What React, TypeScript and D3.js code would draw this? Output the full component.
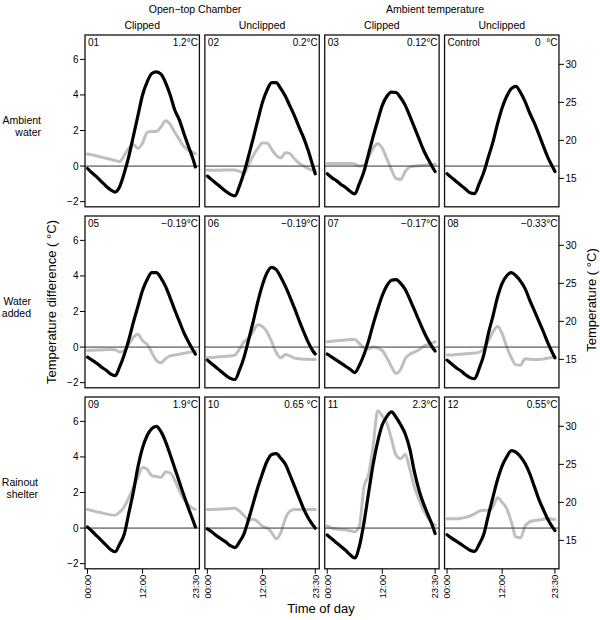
import React from "react";
import * as d3 from "d3";

// ---------- data ----------
const hours = [0, 1, 2, 3, 4, 5, 6, 7, 8, 9, 10, 11, 12, 13, 14, 15, 16, 17, 18, 19, 20, 21, 22, 23, 23.5];

const leftTicks = [-2, 0, 2, 4, 6];
const rightTicks = [15, 20, 25, 30];
const timeTicks = [0, 12, 23.5];
const timeTickLabels = ["00:00", "12:00", "23:30"];

const groupLabels = ["Open\u2212top Chamber", "Ambient temperature"];
const colLabels = ["Clipped", "Unclipped", "Clipped", "Unclipped"];
const rowLabels = [["Ambient", "water"], ["Water", "added"], ["Rainout", "shelter"]];
const panelIds = ["01", "02", "03", "Control", "05", "06", "07", "08", "09", "10", "11", "12"];
const panelOffsets = ["1.2\u00b0C", "0.2\u00b0C", "0.12\u00b0C", "0  \u00b0C", "\u22120.19\u00b0C", "\u22120.19\u00b0C", "\u22120.17\u00b0C", "\u22120.33\u00b0C", "1.9\u00b0C", "0.65 \u00b0C", "2.3\u00b0C", "0.55\u00b0C"];

// temperature (right axis, black)
const temp01 = [16.3, 15.7, 15.2, 14.6, 14.0, 13.5, 13.2, 13.9, 15.7, 17.9, 20.6, 23.3, 26.0, 27.7, 28.8, 29.0, 28.7, 27.6, 26.0, 24.0, 22.7, 20.9, 19.2, 17.5, 16.5];
const temp02 = [15.3, 14.8, 14.3, 13.8, 13.3, 12.9, 12.7, 14.0, 15.8, 18.0, 20.3, 22.7, 25.0, 26.6, 27.6, 27.6, 26.8, 25.8, 24.5, 23.2, 21.7, 20.3, 18.6, 16.6, 15.6];
const temp03 = [15.6, 15.1, 14.7, 14.2, 13.8, 13.3, 12.95, 14.3, 15.9, 18.2, 20.5, 22.6, 24.6, 25.8, 26.35, 26.3, 25.6, 24.6, 23.2, 21.7, 20.2, 18.7, 17.5, 16.4, 15.9];
const temp04 = [15.6, 15.1, 14.6, 14.1, 13.6, 13.1, 13.0, 14.3, 15.8, 17.8, 19.8, 22.2, 24.3, 25.8, 26.8, 27.1, 26.3, 25.1, 23.6, 22.3, 20.8, 19.2, 17.7, 16.5, 15.9];
const temp05 = [15.3, 14.9, 14.5, 14.0, 13.6, 13.1, 12.85, 14.0, 15.6, 17.6, 19.9, 22.0, 24.1, 25.5, 26.4, 26.4, 25.7, 24.6, 23.1, 21.5, 20.0, 18.5, 17.3, 16.2, 15.7];
const temp06 = [14.9, 14.4, 13.9, 13.4, 12.9, 12.5, 12.35, 13.6, 15.3, 17.6, 20.0, 22.6, 24.8, 26.4, 27.1, 26.8, 25.8, 24.6, 23.2, 21.7, 20.1, 18.6, 17.2, 16.1, 15.7];
const temp07 = [15.7, 15.3, 14.9, 14.5, 14.1, 13.7, 13.25, 14.2, 15.6, 17.4, 19.6, 21.6, 23.4, 24.7, 25.4, 25.5, 25.0, 24.2, 22.9, 21.5, 20.1, 18.7, 17.5, 16.5, 16.1];
const temp08 = [14.9, 14.4, 13.9, 13.5, 13.0, 12.6, 12.45, 13.8, 15.6, 18.4, 20.7, 23.2, 25.0, 26.0, 26.4, 26.0, 25.3, 24.3, 22.8, 21.4, 20.0, 18.6, 17.1, 15.8, 15.2];
const temp09 = [16.75, 16.2, 15.6, 15.0, 14.4, 13.8, 13.5, 14.5, 15.8, 18.6, 21.4, 24.7, 27.2, 28.8, 29.7, 30.0, 29.3, 28.0, 26.3, 24.5, 22.7, 20.9, 19.2, 17.6, 16.75];
const temp10 = [16.5, 16.1, 15.6, 15.2, 14.8, 14.3, 14.05, 14.8, 15.9, 17.8, 19.9, 22.0, 23.8, 25.4, 26.3, 26.4, 25.8, 25.0, 23.6, 22.1, 20.6, 19.1, 17.9, 17.0, 16.6];
const temp11 = [15.7, 15.2, 14.7, 14.2, 13.7, 13.1, 12.7, 14.2, 17.3, 21.2, 25.0, 28.0, 30.2, 31.3, 31.9, 31.2, 30.2, 29.0, 27.0, 24.0, 21.6, 19.8, 18.3, 16.8, 15.9];
const temp12 = [15.75, 15.3, 14.9, 14.5, 14.1, 13.7, 13.55, 14.5, 15.8, 18.3, 20.7, 23.0, 24.8, 26.0, 26.8, 26.6, 26.0, 25.1, 23.8, 22.1, 20.4, 19.0, 17.7, 16.7, 16.3];

// temperature difference (left axis, grey)
const diff01 = [0.68, 0.63, 0.57, 0.5, 0.44, 0.38, 0.32, 0.25, 0.6, 1.0, 1.2, 1.0, 1.3, 1.9, 1.95, 1.95, 2.2, 2.55, 2.35, 1.9, 1.5, 1.1, 0.9, 0.75, 0.7];
const diff02 = [-0.22, -0.23, -0.23, -0.23, -0.22, -0.22, -0.22, -0.3, -0.4, 0.1, 0.6, 1.0, 1.3, 1.3, 0.95, 0.6, 0.45, 0.75, 0.7, 0.4, 0.15, 0.0, -0.15, -0.25, -0.3];
const diff03 = [0.15, 0.15, 0.15, 0.15, 0.15, 0.15, 0.12, 0.0, 0.05, 0.5, 1.0, 1.25, 1.0, 0.4, -0.2, -0.7, -0.75, -0.3, -0.05, 0.0, 0.02, 0.05, 0.07, 0.1, 0.1];
const diff04: number[] | null = null;
const diff05 = [-0.19, -0.18, -0.17, -0.16, -0.15, -0.14, -0.15, -0.28, -0.2, 0.15, 0.55, 0.72, 0.35, 0.15, -0.3, -0.75, -0.88, -0.65, -0.5, -0.45, -0.4, -0.35, -0.3, -0.25, -0.22];
const diff06 = [-0.6, -0.58, -0.56, -0.54, -0.52, -0.5, -0.45, -0.1, 0.3, 0.5, 0.9, 1.25, 1.15, 0.85, 0.3, -0.3, -0.6, -0.42, -0.5, -0.62, -0.66, -0.68, -0.69, -0.7, -0.7];
const diff07 = [0.3, 0.33, 0.36, 0.38, 0.4, 0.42, 0.42, 0.2, -0.05, -0.1, 0.0, -0.05, -0.2, -0.6, -1.1, -1.48, -1.25, -0.65, -0.4, -0.28, -0.15, 0.05, 0.15, 0.25, 0.3];
const diff08 = [-0.45, -0.44, -0.42, -0.4, -0.38, -0.36, -0.34, -0.3, -0.1, 0.35, 0.85, 1.15, 0.75, 0.0, -0.6, -1.0, -1.02, -0.65, -0.68, -0.7, -0.7, -0.67, -0.62, -0.57, -0.55];
const diff09 = [1.05, 0.98, 0.92, 0.86, 0.8, 0.75, 0.72, 0.9, 1.2, 1.7, 2.3, 2.9, 3.4, 3.3, 2.95, 2.9, 2.85, 3.15, 3.1, 2.7, 2.1, 1.6, 1.3, 1.1, 1.05];
const diff10 = [1.05, 1.05, 1.06, 1.07, 1.08, 1.1, 1.12, 0.95, 0.7, 0.45, 0.5, 0.35, 0.1, 0.0, -0.25, -0.6, -0.25, 0.55, 0.95, 1.05, 1.05, 1.05, 1.05, 1.05, 1.05];
const diff11 = [0.12, 0.0, -0.05, -0.08, -0.1, -0.15, -0.2, 0.1, 2.3, 3.0, 4.6, 6.6, 6.3, 5.9, 5.0, 4.1, 3.9, 4.15, 3.3, 2.3, 1.6, 1.0, 0.55, 0.25, 0.17];
const diff12 = [0.53, 0.52, 0.52, 0.55, 0.6, 0.68, 0.8, 0.95, 1.0, 1.0, 1.2, 1.7, 1.45, 1.1, 0.35, -0.5, -0.55, 0.1, 0.35, 0.42, 0.45, 0.5, 0.55, 0.5, 0.5];

const temps = [temp01, temp02, temp03, temp04, temp05, temp06, temp07, temp08, temp09, temp10, temp11, temp12];
const diffs = [diff01, diff02, diff03, diff04, diff05, diff06, diff07, diff08, diff09, diff10, diff11, diff12];

// ---------- layout ----------
const W = 600;
const H = 620;
const FONT = "'Liberation Sans', Arial, Helvetica, sans-serif";
const left0 = 85;
const colStep = 119.85;
const pw = 114.4;
const top0 = 35;
const rowStep = 181;
const ph = 171.8;
const diffDomain = [-2.29, 7.37];
const tempDomain = [11.26, 33.86];

export default function App() {
  const panels = panelIds.map((id, i) => {
    const r = Math.floor(i / 4);
    const c = i % 4;
    const L = left0 + c * colStep;
    const T = top0 + r * rowStep;
    const x = d3.scaleLinear().domain([0, 23.5]).range([L + 2.5, L + pw - 4]);
    const yD = d3.scaleLinear().domain(diffDomain).range([T + ph, T]);
    const yT = d3.scaleLinear().domain(tempDomain).range([T + ph, T]);
    const lineT = d3
      .line<number>()
      .x((_, k) => x(hours[k]))
      .y((v) => yT(v))
      .curve(d3.curveMonotoneX);
    const lineD = d3
      .line<number>()
      .x((_, k) => x(hours[k]))
      .y((v) => yD(v))
      .curve(d3.curveMonotoneX);
    const diff = diffs[i];
    return (
      <g key={id}>
        <rect x={L} y={T} width={pw} height={ph} fill="#fff" stroke="none" />
        <clipPath id={`clip${i}`}>
          <rect x={L} y={T} width={pw} height={ph} />
        </clipPath>
        <g clipPath={`url(#clip${i})`}>
          {diff && (
            <path d={lineD(diff) || ""} fill="none" stroke="#bfbfbf" strokeWidth={3} strokeLinejoin="round" strokeLinecap="round" />
          )}
          <line x1={L} x2={L + pw} y1={yD(0)} y2={yD(0)} stroke="#333" strokeWidth={1} />
          <path d={lineT(temps[i]) || ""} fill="none" stroke="#000" strokeWidth={3.2} strokeLinejoin="round" strokeLinecap="round" />
        </g>
        <rect x={L} y={T} width={pw} height={ph} fill="none" stroke="#111" strokeWidth={1.3} />
        <text x={L + 3} y={T + 10.5} fontSize={10} fontFamily={FONT} fill="#000">
          {id}
        </text>
        <text x={L + pw - 1.5} y={T + 10.5} fontSize={10} fontFamily={FONT} fill="#000" textAnchor="end" style={{ whiteSpace: "pre" }}>
          {panelOffsets[i]}
        </text>
        {c === 0 &&
          leftTicks.map((t) => (
            <g key={`l${t}`}>
              <line x1={L - 5} x2={L} y1={yD(t)} y2={yD(t)} stroke="#000" strokeWidth={1} />
              <text x={L - 6.5} y={yD(t)} dy="0.35em" fontSize={10} fontFamily={FONT} textAnchor="end">
                {t < 0 ? `\u2212${Math.abs(t)}` : t}
              </text>
            </g>
          ))}
        {c === 3 &&
          rightTicks.map((t) => (
            <g key={`r${t}`}>
              <line x1={L + pw} x2={L + pw + 5} y1={yT(t)} y2={yT(t)} stroke="#000" strokeWidth={1} />
              <text x={L + pw + 6.5} y={yT(t)} dy="0.35em" fontSize={10} fontFamily={FONT} textAnchor="start">
                {t}
              </text>
            </g>
          ))}
        {r === 2 &&
          timeTicks.map((t, k) => (
            <g key={`b${t}`}>
              <line x1={x(t)} x2={x(t)} y1={T + ph} y2={T + ph + 5} stroke="#000" strokeWidth={1} />
              <text
                transform={`translate(${x(t)},${T + ph + 6}) rotate(-90)`}
                dy="0.35em"
                fontSize={9.5}
                fontFamily={FONT}
                textAnchor="end"
              >
                {timeTickLabels[k]}
              </text>
            </g>
          ))}
      </g>
    );
  });

  const groupX = [195, 435];
  const rowLabelX = [41, 31, 38];

  return (
    <svg width={W} height={H} style={{ position: "absolute", left: 0, top: 0, background: "#fff" }} fontFamily={FONT}>
      <rect x={0} y={0} width={W} height={H} fill="#fff" />
      {groupLabels.map((g, k) => (
        <text key={g} x={groupX[k]} y={13} fontSize={10.5} textAnchor="middle">
          {g}
        </text>
      ))}
      {colLabels.map((c, k) => (
        <text key={k} x={left0 + k * colStep + pw / 2} y={29} fontSize={10.5} textAnchor="middle">
          {c}
        </text>
      ))}
      {rowLabels.map((lines, r) => {
        const cy = top0 + r * rowStep + 89;
        return (
          <text key={r} x={rowLabelX[r]} y={cy} fontSize={10.5} textAnchor="end">
            <tspan x={rowLabelX[r]} dy={0}>
              {lines[0]}
            </tspan>
            <tspan x={rowLabelX[r]} dy={11.7}>
              {lines[1]}
            </tspan>
          </text>
        );
      })}
      {panels}
      <text transform="translate(56,302) rotate(-90)" fontSize={13} textAnchor="middle">
        Temperature difference ( °C)
      </text>
      <text transform="translate(596,300) rotate(-90)" fontSize={13} textAnchor="middle">
        Temperature ( °C)
      </text>
      <text x={321} y={613} fontSize={13} textAnchor="middle">
        Time of day
      </text>
    </svg>
  );
}
